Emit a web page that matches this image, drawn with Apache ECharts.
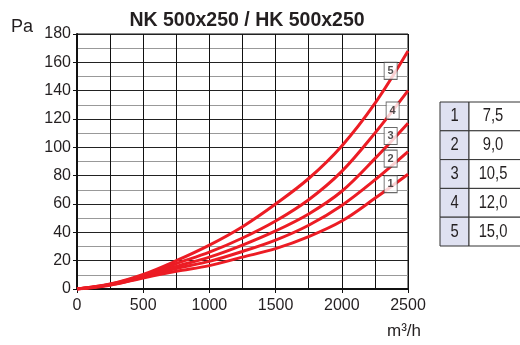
<!doctype html>
<html>
    <head>
        <meta charset="utf-8">
        <title>NK 500x250 / HK 500x250</title>
        <script src="https://cdn.jsdelivr.net/npm/echarts@6/dist/echarts.min.js"></script>
        <style>
            html, body { margin: 0; padding: 0; background: #fff; }
            #main { width: 520px; height: 345px; }
        </style>
    </head>
    <body>
        <div id="main"></div>
        <script>
            // airflow m3/h
            var flow = [0, 250, 500, 750, 1000, 1250, 1500, 1750, 2000, 2250, 2500];
            // pressure drop, Pa, per curve
            var p1 = [0, 2.7, 7.8, 12.5, 16.5, 22.5, 28.5, 37, 48, 64, 81];
            var p2 = [0, 2.9, 8.4, 14.5, 19.5, 26.5, 34.5, 45, 59, 77, 97];
            var p3 = [0, 3.1, 9.0, 16.0, 22.5, 31, 41, 53, 69, 92, 117];
            var p4 = [0, 3.3, 9.6, 18, 26, 36, 48, 63, 83, 110, 140];
            var p5 = [0, 3.5, 10.3, 20, 31, 44, 60, 78, 101, 131, 168];
            var curveNames = ['1', '2', '3', '4', '5'];
            // where the little number boxes sit (flow, Pa)
            var labelFlow = [2369, 2369, 2369, 2384, 2369];
            var labelPa = [74, 92, 108, 126, 154];
            // table on the right
            var tableIds = ['1', '2', '3', '4', '5'];
            var tableVals = ['7,5', '9,0', '10,5', '12,0', '15,0'];

            var curves = [p1, p2, p3, p4, p5];
            var red = '#ec1c24';
            var ink = '#231f20';
            var font = '"Liberation Sans", Arial, sans-serif';

            var chart = echarts.init(document.getElementById('main'));

            var series = curves.map(function (vals, i) {
                return {
                    name: curveNames[i],
                    type: 'line',
                    smooth: 0.35,
                    symbol: 'none',
                    lineStyle: { color: red, width: 3 },
                    data: flow.map(function (q, j) { return [q, vals[j]]; }),
                    z: 3
                };
            });
            series.push({
                type: 'scatter',
                symbol: 'rect',
                symbolSize: [13, 17],
                itemStyle: { color: '#fff', borderColor: '#444', borderWidth: 1 },
                label: {
                    show: true,
                    position: 'inside',
                    formatter: function (p) { return p.data[2]; },
                    color: ink,
                    fontFamily: font,
                    fontWeight: 'bold',
                    fontSize: 11
                },
                data: curveNames.map(function (n, i) { return [labelFlow[i], labelPa[i], n]; }),
                z: 5,
                silent: true
            });

            // table cells
            var graphics = [];
            var tx = 440, ty = 102, rowH = 28.8, c1 = 29, c2 = 53;
            tableIds.forEach(function (id, i) {
                var y = ty + i * rowH;
                graphics.push({
                    type: 'rect',
                    shape: { x: tx, y: y, width: c1, height: rowH },
                    style: { fill: '#dfe1f1', stroke: '#333', lineWidth: 1 }
                });
                graphics.push({
                    type: 'rect',
                    shape: { x: tx + c1, y: y, width: c2, height: rowH },
                    style: { fill: '#fff', stroke: '#333', lineWidth: 1 }
                });
                graphics.push({
                    type: 'text',
                    x: tx + c1 / 2, y: y + rowH / 2,
                    scaleX: 0.82,
                    style: {
                        text: id, fill: ink, fontSize: 18, fontFamily: font,
                        align: 'center', verticalAlign: 'middle'
                    }
                });
                graphics.push({
                    type: 'text',
                    x: tx + c1 + 24, y: y + rowH / 2,
                    scaleX: 0.82,
                    style: {
                        text: tableVals[i], fill: ink, fontSize: 18, fontFamily: font,
                        align: 'center', verticalAlign: 'middle'
                    }
                });
            });
            graphics.push({
                type: 'text', x: 11, y: 27,
                style: { text: 'Pa', fill: ink, fontSize: 18, fontFamily: font, verticalAlign: 'middle' }
            });
            graphics.push({
                type: 'text', x: 404, y: 331,
                style: { text: 'm³/h', fill: ink, fontSize: 17, fontFamily: font, align: 'center', verticalAlign: 'middle' }
            });

            chart.setOption({
                animation: false,
                title: {
                    text: 'NK 500x250 / HK 500x250',
                    left: 242,
                    top: 6,
                    textAlign: 'center',
                    textStyle: { color: ink, fontSize: 19.5, fontWeight: 'bold', fontFamily: font }
                },
                grid: {
                    left: 77, right: 112, top: 34, bottom: 56,
                    show: true, borderColor: '#111', borderWidth: 1
                },
                xAxis: {
                    type: 'value',
                    min: 0, max: 2500, interval: 500,
                    axisLine: { lineStyle: { color: '#111', width: 2 } },
                    axisTick: { show: true, length: 4, lineStyle: { color: '#111' } },
                    axisLabel: {
                        color: ink, fontSize: 16, fontFamily: font, margin: 9,
                        formatter: function (v) { return String(v); }
                    },
                    splitLine: { lineStyle: { color: '#111', width: 1 } },
                    minorTick: { show: false, splitNumber: 2 },
                    minorSplitLine: { show: true, lineStyle: { color: '#111', width: 1 } }
                },
                yAxis: {
                    type: 'value',
                    min: 0, max: 180, interval: 20,
                    axisLine: { show: true, lineStyle: { color: '#111', width: 2 } },
                    axisTick: { show: true, length: 4, lineStyle: { color: '#111' } },
                    axisLabel: { color: ink, fontSize: 16, fontFamily: font, margin: 6 },
                    splitLine: { lineStyle: { color: '#222', width: 1 } },
                    minorTick: { show: false, splitNumber: 2 },
                    minorSplitLine: { show: true, lineStyle: { color: '#999', width: 1.2 } }
                },
                graphic: graphics,
                series: series
            });
        </script>
    </body>
</html>
